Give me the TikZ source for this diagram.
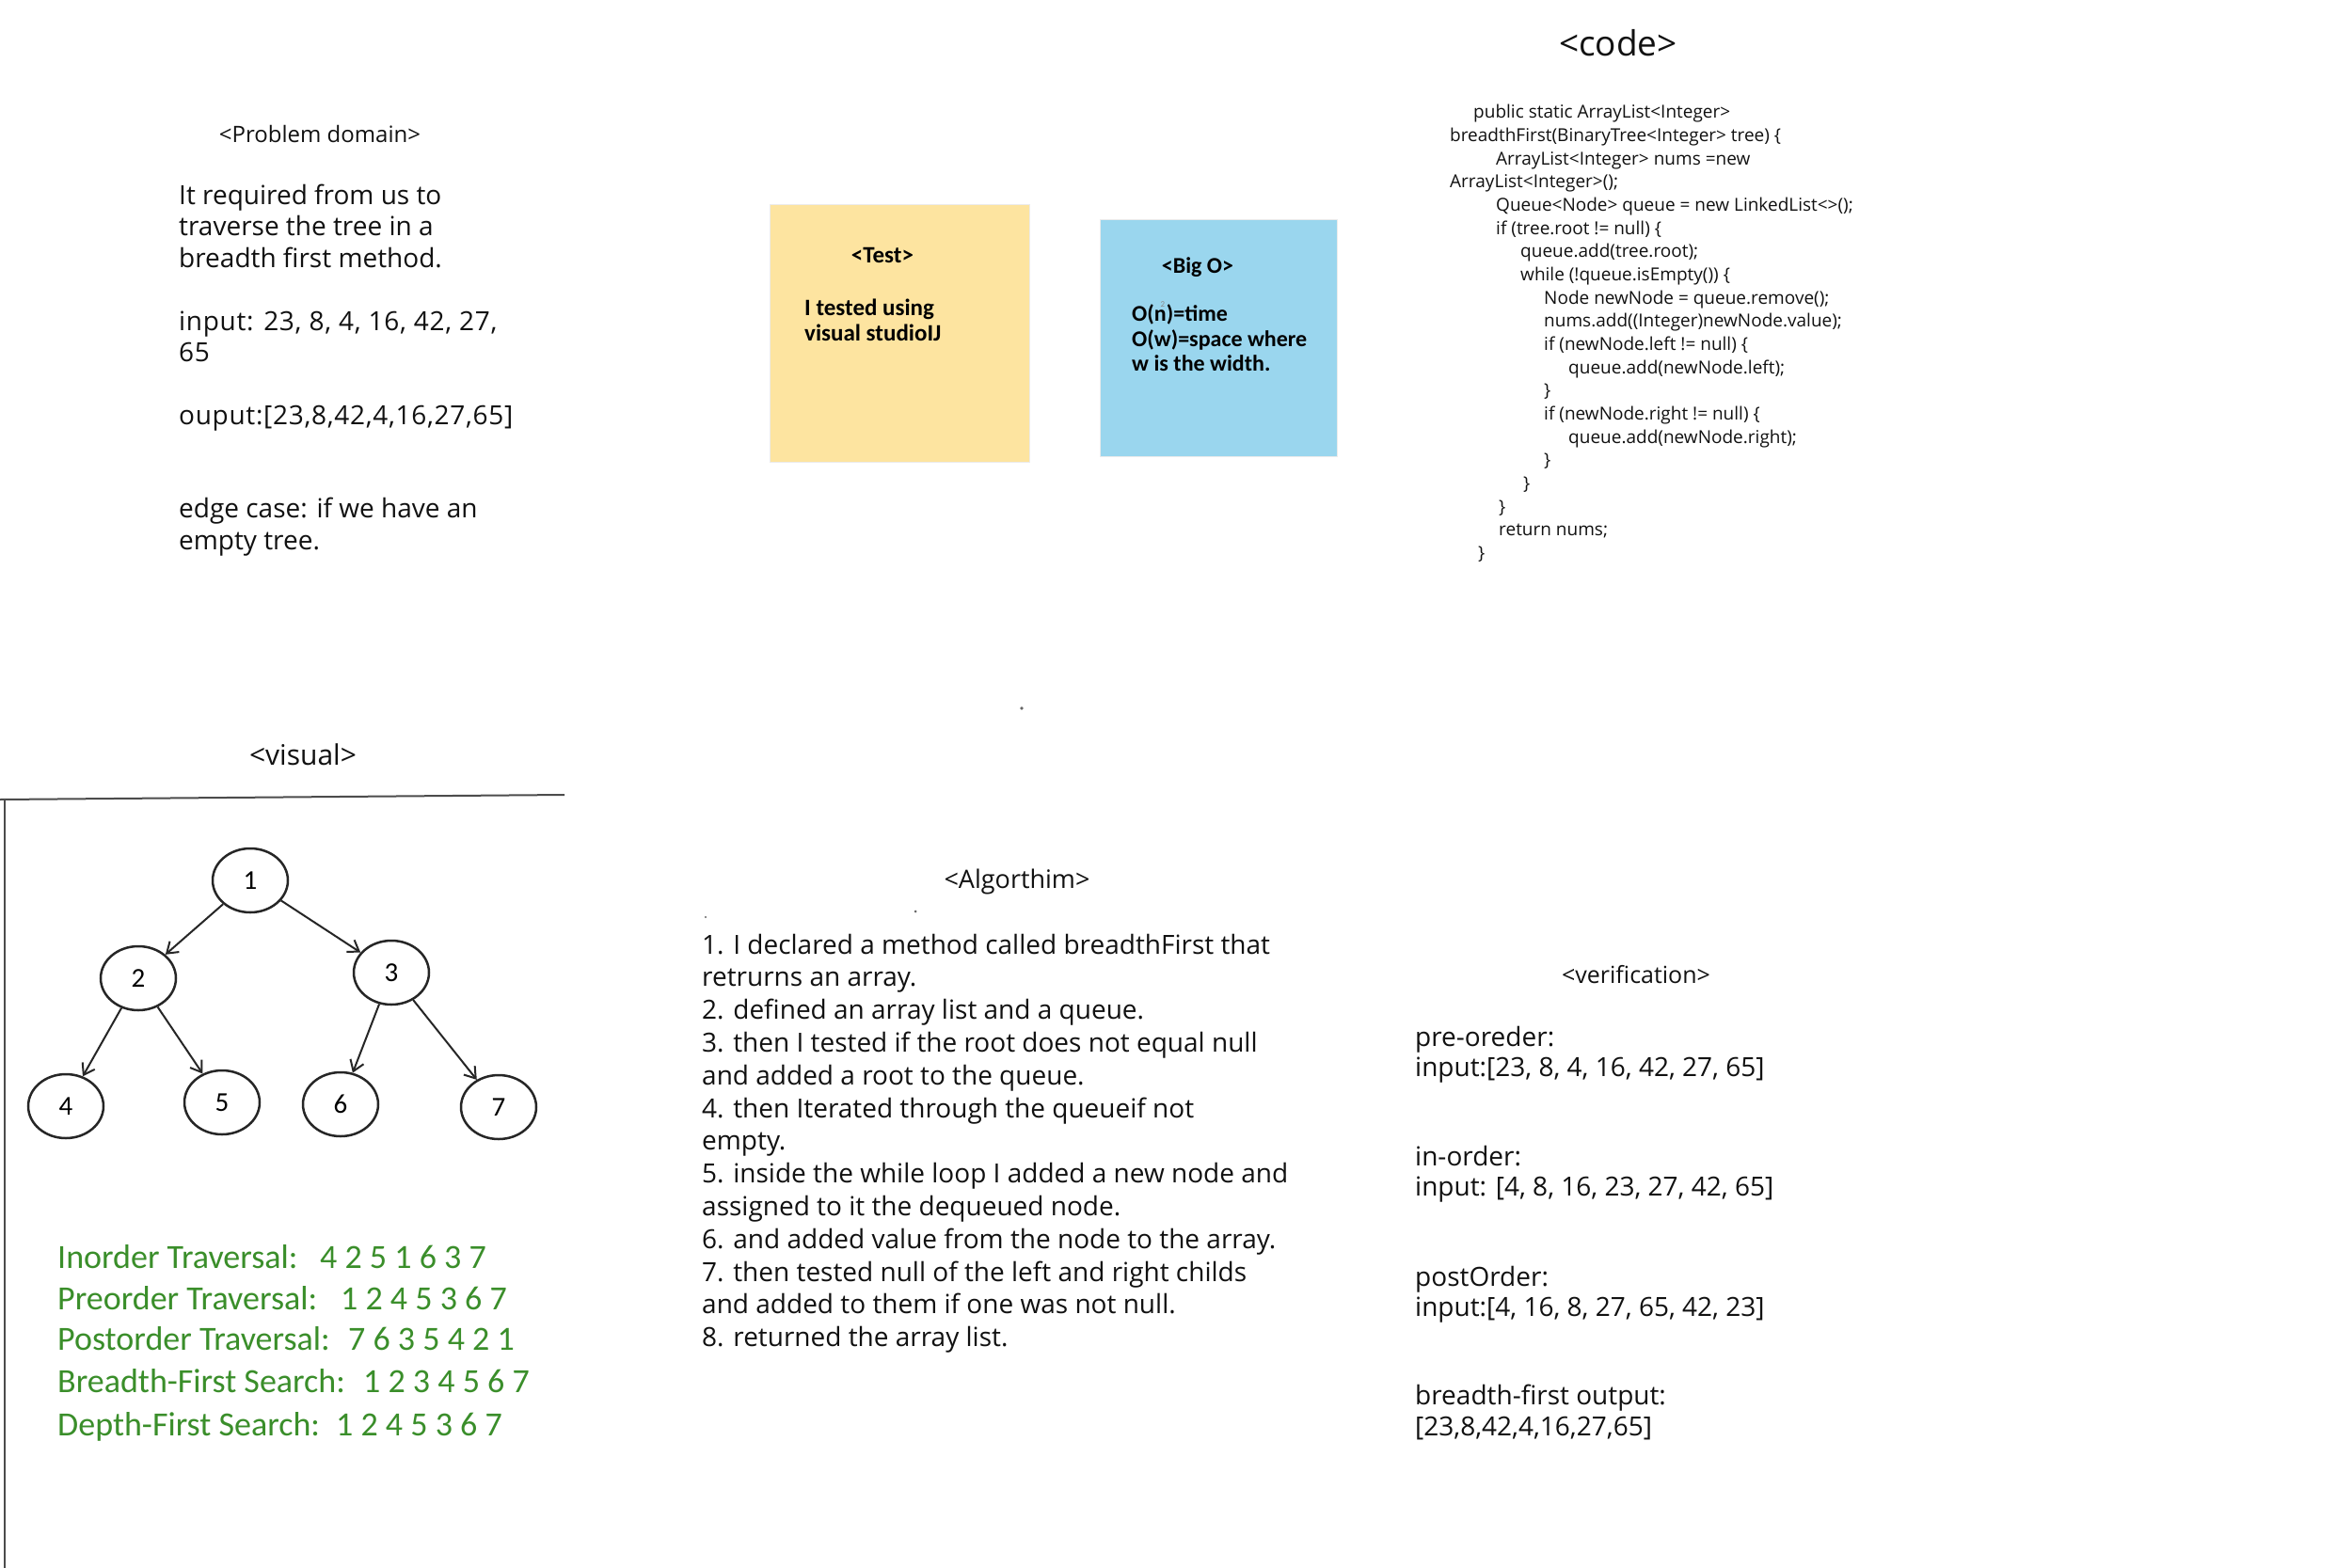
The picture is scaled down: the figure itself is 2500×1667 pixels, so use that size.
\documentclass[tikz,border=0pt]{standalone}
\usepackage{fontspec}
\newfontfamily\handfont{Open Sans}
\newfontfamily\calfont{Carlito}
\usetikzlibrary{arrows.meta,shapes.geometric}
\definecolor{stickyyellow}{HTML}{FDE4A0}
\definecolor{stickyblue}{HTML}{9AD6EE}
\definecolor{travgreen}{HTML}{3A8E2A}
\definecolor{inkblack}{HTML}{111111}
\begin{document}
\begin{tikzpicture}[x=1pt,y=-1pt,
  hand/.style={font=\handfont\fontsize{28}{34}\selectfont, text=inkblack, anchor=base west, inner sep=0pt},
  handwide/.style={font=\handfont\addfontfeature{LetterSpace=2.5}\fontsize{28}{34}\selectfont, text=inkblack, anchor=base west, inner sep=0pt},
  handhead/.style={font=\handfont\fontsize{#1}{#1}\selectfont, text=inkblack, anchor=base, inner sep=0pt},
  codetext/.style={font=\handfont\fontsize{19}{24}\selectfont, text=inkblack, anchor=base west, inner sep=0pt},
  notehead/.style={font=\calfont\bfseries\fontsize{#1}{#1}\selectfont, anchor=base, inner sep=0pt},
  notetext/.style={font=\calfont\bfseries\fontsize{#1}{#1}\selectfont, anchor=base west, inner sep=0pt},
  notebox/.style={draw=black!8, line width=1pt, anchor=north west, inner sep=0pt},
  trav/.style={font=\calfont\fontsize{36}{40}\selectfont, text=travgreen, anchor=base west, inner sep=0pt},
  treenode/.style={ellipse, draw=black!85, line width=2.5pt, minimum width=80pt, minimum height=68pt, inner sep=0pt, font=\calfont\fontsize{29}{29}\selectfont},
  treearrow/.style={draw=black!85, line width=2pt, -{Straight Barb[length=11pt,width=15pt]}},
  frameline/.style={draw=black!70, line width=2pt},
  speck/.style={fill=black!60}
]
\fill[white] (0,0) rectangle (2500,1667);
\useasboundingbox (0,0) rectangle (2500,1667);

% ---------- Problem domain ----------
\node[handhead=24] (pdhead) at (340,151) {<Problem domain>};
\node[hand] (pd1) at (190,217) {It required from us to};
\node[hand] (pd2) at (190,250) {traverse the tree in a};
\node[hand] (pd3) at (190,284) {breadth first method.};
\node[handwide] (pd4) at (190,351) {input: 23, 8, 4, 16, 42, 27,};
\node[handwide] (pd5) at (190,384) {65};
\node[handwide] (pd6) at (190,451) {ouput:[23,8,42,4,16,27,65]};
\node[hand] (pd7) at (190,550) {edge case: if we have an};
\node[hand] (pd8) at (190,584) {empty tree.};

% ---------- Test note ----------
\node[notebox, fill=stickyyellow, minimum width=276pt, minimum height=274pt] (testnote) at (818,217) {};
\node[notehead=25] (testhead) at (938,279) {<Test>};
\node[notetext=25] (test1) at (855,335) {I tested using};
\node[notetext=25] (test2) at (855,362) {visual studioIJ};

% ---------- Big O note ----------
\node[notebox, fill=stickyblue, minimum width=252pt, minimum height=252pt] (bignote) at (1169,233) {};
\node[notehead=24] (bighead) at (1273,290) {<Big O>};
\node[notetext=24] (big1) at (1203,341) {O(n)=time};
\node[font=\calfont\fontsize{9}{9}\selectfont, text=black!45, inner sep=0pt] (bigsq) at (1236,324) {2};
\node[notetext=24] (big2) at (1203,368) {O(w)=space where};
\node[notetext=24] (big3) at (1203,394) {w is the width.};

% ---------- Code ----------
\node[handhead=37] (codehead) at (1720,60) {<code>};
\foreach \x/\t [count=\i] in {
  1566/{public static ArrayList<Integer>},
  1541/{breadthFirst(BinaryTree<Integer> tree) \{},
  1590/{ArrayList<Integer> nums =new},
  1541/{ArrayList<Integer>();},
  1590/{Queue<Node> queue = new LinkedList<>();},
  1590/{if (tree.root != null) \{},
  1616/{queue.add(tree.root);},
  1616/{while (!queue.isEmpty()) \{},
  1641/{Node newNode = queue.remove();},
  1641/{nums.add((Integer)newNode.value);},
  1641/{if (newNode.left != null) \{},
  1667/{queue.add(newNode.left);},
  1641/{\}},
  1641/{if (newNode.right != null) \{},
  1667/{queue.add(newNode.right);},
  1641/{\}},
  1619/{\}},
  1593/{\}},
  1593/{return nums;},
  1571/{\}}}
  \node[codetext] (code\i) at (\x,{126+24.65*(\i-1)}) {\t};

% ---------- specks ----------
\fill[speck] (1086,753) circle (1.8);
\fill[speck] (973,969) circle (1.5);
\fill[speck] (750,975) circle (1.2);

% ---------- Visual ----------
\node[handhead=30] (vishead) at (322,813) {<visual>};
\coordinate (frameL) at (0,850);
\coordinate (frameR) at (600,845);
\coordinate (frameTop) at (5,850);
\coordinate (frameBot) at (5,1667);
\draw[frameline] (frameL) -- (frameR);
\draw[frameline] (frameTop) -- (frameBot);

\node[treenode] (n1) at (266,936) {1};
\node[treenode] (n2) at (147,1040) {2};
\node[treenode] (n3) at (416,1034) {3};
\node[treenode] (n4) at (70,1176) {4};
\node[treenode] (n5) at (236,1172) {5};
\node[treenode] (n6) at (362,1174) {6};
\node[treenode] (n7) at (530,1177) {7};
\draw[treearrow] (n1) -- (n2);
\draw[treearrow] (n1) -- (n3);
\draw[treearrow] (n2) -- (n4);
\draw[treearrow] (n2) -- (n5);
\draw[treearrow] (n3) -- (n6);
\draw[treearrow] (n3) -- (n7);

\node[trav] (tr1) at (61,1348) {Inorder Traversal:};
\node[trav] (tr1n) at (340,1348) {4 2 5 1 6 3 7};
\node[trav] (tr2) at (61,1392) {Preorder Traversal:};
\node[trav] (tr2n) at (362,1392) {1 2 4 5 3 6 7};
\node[trav] (tr3) at (61,1435) {Postorder Traversal:};
\node[trav] (tr3n) at (370,1435) {7 6 3 5 4 2 1};
\node[trav] (tr4) at (61,1480) {Breadth-First Search:};
\node[trav] (tr4n) at (386,1480) {1 2 3 4 5 6 7};
\node[trav] (tr5) at (61,1526) {Depth-First Search:};
\node[trav] (tr5n) at (357,1526) {1 2 4 5 3 6 7};

% ---------- Algorithm ----------
\node[handhead=27] (alghead) at (1081,944) {<Algorthim>};
\foreach \t [count=\i] in {
  {1. I declared a method called breadthFirst that},
  {retrurns an array.},
  {2. defined an array list and a queue.},
  {3. then I tested if the root does not equal null},
  {and added a root to the queue.},
  {4. then Iterated through the queueif not},
  {empty.},
  {5. inside the while loop I added a new node and},
  {assigned to it the dequeued node.},
  {6. and added value from the node to the array.},
  {7. then tested null of the left and right childs},
  {and added to them if one was not null.},
  {8. returned the array list.}}
  \node[hand] (alg\i) at (746,{1014+34.8*(\i-1)}) {\t};

% ---------- Verification ----------
\node[handhead=25] (verhead) at (1739,1045) {<verification>};
\foreach \yy/\t [count=\i] in {
  1112/{pre-oreder:},
  1144/{input:[23, 8, 4, 16, 42, 27, 65]},
  1239/{in-order:},
  1271/{input: [4, 8, 16, 23, 27, 42, 65]},
  1367/{postOrder:},
  1399/{input:[4, 16, 8, 27, 65, 42, 23]},
  1493/{breadth-first output:},
  1526/{[23,8,42,4,16,27,65]}}
  \node[hand] (ver\i) at (1504,\yy) {\t};
\end{tikzpicture}
\end{document}
